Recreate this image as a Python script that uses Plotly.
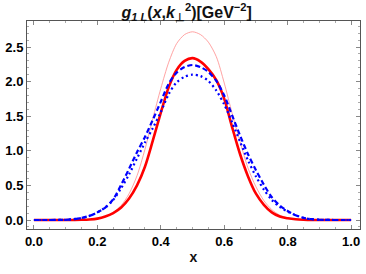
import plotly.graph_objects as go

# x grid for all curves
x_vals = [0.0, 0.05, 0.1, 0.125, 0.15, 0.175, 0.2, 0.225, 0.25, 0.275, 0.3, 0.325, 0.35, 0.375,
          0.4, 0.425, 0.45, 0.475, 0.5, 0.525, 0.55, 0.575, 0.6, 0.625, 0.65, 0.675,
          0.7, 0.725, 0.75, 0.775, 0.8, 0.825, 0.85, 0.875, 0.9, 0.95, 1.0]

# thin light-red curve
thin_red = [0, 0, 0, 0.001, 0.003, 0.008, 0.02, 0.05, 0.11, 0.21, 0.38, 0.64, 1.02, 1.47,
            1.90, 2.28, 2.55, 2.68, 2.72, 2.68, 2.57, 2.36, 1.98, 1.54, 1.13, 0.75,
            0.48, 0.28, 0.15, 0.07, 0.03, 0.01, 0.004, 0.001, 0, 0, 0]

# thick red curve
thick_red = [0, 0, 0, 0.001, 0.003, 0.008, 0.02, 0.05, 0.10, 0.18, 0.31, 0.50, 0.77, 1.15,
             1.55, 1.92, 2.17, 2.30, 2.34, 2.29, 2.18, 2.02, 1.75, 1.34, 0.95, 0.63,
             0.38, 0.22, 0.11, 0.05, 0.025, 0.01, 0.004, 0.001, 0, 0, 0]

# blue dashed curve
blue_dash = [0, 0, 0.003, 0.012, 0.03, 0.06, 0.11, 0.18, 0.30, 0.51, 0.74, 0.98, 1.20, 1.45,
             1.71, 1.97, 2.13, 2.21, 2.24, 2.21, 2.14, 2.01, 1.80, 1.51, 1.22, 0.95,
             0.72, 0.51, 0.33, 0.21, 0.13, 0.07, 0.03, 0.012, 0.004, 0, 0]

# blue dotted curve
blue_dot = [0, 0, 0.003, 0.012, 0.03, 0.06, 0.11, 0.18, 0.29, 0.46, 0.66, 0.89, 1.12, 1.33,
            1.56, 1.82, 1.99, 2.07, 2.10, 2.08, 2.01, 1.87, 1.67, 1.41, 1.13, 0.86,
            0.63, 0.44, 0.29, 0.19, 0.12, 0.07, 0.03, 0.012, 0.004, 0, 0]

x_ticks = [0.0, 0.2, 0.4, 0.6, 0.8, 1.0]
x_tick_text = ["0.0", "0.2", "0.4", "0.6", "0.8", "1.0"]
y_ticks = [0.0, 0.5, 1.0, 1.5, 2.0, 2.5]
y_tick_text = ["0.0", "0.5", "1.0", "1.5", "2.0", "2.5"]

fig = go.Figure()
fig.add_trace(go.Scatter(x=x_vals, y=thin_red, mode="lines",
                         line=dict(color="#FF8C8C", width=0.8, shape="spline", smoothing=0.8)))
fig.add_trace(go.Scatter(x=x_vals, y=thick_red, mode="lines",
                         line=dict(color="#FF0000", width=2.6, shape="spline", smoothing=0.8)))
fig.add_trace(go.Scatter(x=x_vals, y=blue_dash, mode="lines",
                         line=dict(color="#0000FF", width=2.2, dash="5px,3px", shape="spline", smoothing=0.8)))
fig.add_trace(go.Scatter(x=x_vals, y=blue_dot, mode="lines",
                         line=dict(color="#0000FF", width=2.2, dash="2px,3px", shape="spline", smoothing=0.8)))

tick_font = dict(family="Liberation Sans", size=13, color="black", weight="bold")
axis_common = dict(
    showgrid=False, zeroline=False, showline=True, linecolor="#555555", linewidth=1,
    mirror="ticks", ticks="inside", ticklen=4, tickcolor="#888888", tickwidth=1,
    tickfont=tick_font,
)

fig.update_layout(
    width=366, height=274,
    margin=dict(l=24, r=5, t=21, b=45),
    paper_bgcolor="white", plot_bgcolor="white",
    showlegend=False,
    hovermode=False,
    title=dict(
        text="<b><i>g</i><sub><i>1 L</i></sub>(<i>x</i>,<i>k</i><sub>⊥</sub><sup>2</sup>)[GeV<sup>−2</sup>]</b>",
        x=0.51, xanchor="center", y=0.975, yanchor="top",
        font=dict(family="Liberation Sans", size=16, color="#111111"),
    ),
    xaxis=dict(
        range=[-0.0218, 1.028], tickvals=x_ticks, ticktext=x_tick_text,
        minor=dict(ticks="inside", dtick=0.05, ticklen=2, tickcolor="#aaaaaa"),
        title=dict(text="<b>x</b>", font=dict(family="Liberation Sans", size=14, color="#111111"), standoff=4),
        **axis_common,
    ),
    yaxis=dict(
        range=[-0.130, 2.876], tickvals=y_ticks, ticktext=y_tick_text,
        minor=dict(ticks="inside", dtick=0.1, ticklen=2, tickcolor="#aaaaaa"),
        **axis_common,
    ),
)

fig.write_html("out.html", config={"displayModeBar": False},
               post_script="document.body.style.margin='0';")
